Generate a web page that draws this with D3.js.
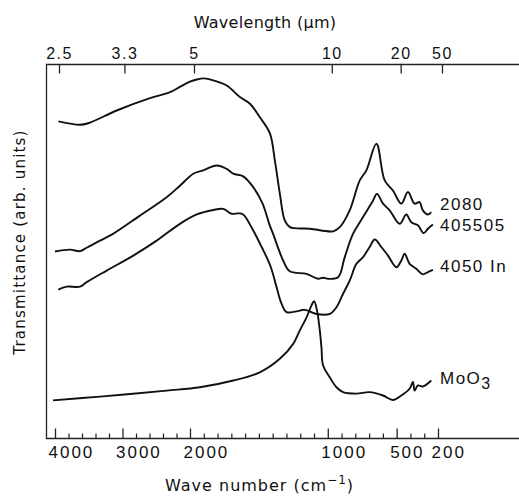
<!DOCTYPE html>
<html>
<head>
<meta charset="utf-8">
<script src="https://cdn.jsdelivr.net/npm/d3@7"></script>
<style>
  body { margin: 0; background: #fff; }
  .num { font-family: "Liberation Sans", Arial, sans-serif; fill: #111; }
  .title { font-family: "DejaVu Sans", sans-serif; fill: #111; }
</style>
</head>
<body>
<div id="chart"></div>
<script>
// wave numbers (cm-1) and transmittance (arb. units, 0 = bottom frame, 100 = top frame)
var wn2080 = [3950, 3630, 3507, 3086, 2593, 2296, 2149, 2000, 1951, 1900, 1855, 1734, 1638, 1565, 1493, 1420, 1384, 1348, 1312, 1275, 1130, 962, 913, 841, 768, 720, 647, 587, 527, 466, 418, 370, 334, 310, 273, 249];
var t2080  = [84.8, 83.9, 84.3, 87.7, 91.0, 92.6, 94.0, 95.4, 96.0, 96.3, 96.0, 94.4, 91.3, 89.5, 85.9, 81.6, 74.3, 65.5, 58.3, 56.5, 56.1, 55.4, 56.5, 61.0, 69.0, 71.7, 78.8, 69.0, 66.3, 62.8, 65.9, 62.8, 63.2, 61.0, 59.9, 60.5];

var wn405505 = [4000, 3778, 3630, 3531, 3334, 3160, 2741, 2346, 2149, 1976, 1904, 1807, 1734, 1686, 1614, 1541, 1473, 1425, 1397, 1324, 1275, 1154, 1070, 1034, 998, 925, 877, 817, 744, 672, 643, 599, 551, 478, 430, 394, 346, 304, 273, 237];
var t405505  = [50.0, 50.5, 50.1, 51.0, 52.9, 54.5, 59.6, 64.5, 67.6, 70.8, 71.7, 73.0, 72.1, 70.8, 70.1, 67.2, 62.8, 57.4, 54.7, 47.6, 44.7, 44.0, 42.7, 43.0, 42.7, 43.1, 48.5, 54.7, 59.2, 63.6, 65.4, 62.8, 61.0, 57.4, 59.9, 57.8, 57.0, 54.9, 56.1, 57.2];

var wn4050In = [3951, 3827, 3630, 3531, 3234, 2840, 2494, 2149, 1951, 1831, 1759, 1698, 1650, 1614, 1541, 1480, 1415, 1372, 1335, 1299, 1227, 1167, 1082, 986, 937, 889, 841, 792, 744, 696, 659, 611, 563, 502, 466, 442, 406, 358, 310, 273, 237];
var t4050In  = [39.8, 40.6, 40.6, 41.8, 44.9, 48.9, 52.9, 57.4, 59.9, 61.1, 61.4, 60.1, 60.2, 59.9, 55.6, 51.2, 46.0, 40.5, 36.0, 33.8, 34.0, 34.4, 33.3, 33.3, 35.1, 38.7, 42.2, 46.7, 48.5, 51.2, 53.2, 51.2, 48.9, 45.8, 47.6, 49.4, 46.7, 45.4, 43.9, 44.5, 45.1];

var wnMoO3 = [4030, 3334, 2346, 1928, 1686, 1493, 1348, 1251, 1203, 1154, 1118, 1099, 1078, 1058, 1046, 1034, 986, 937, 889, 792, 696, 599, 527, 466, 406, 382, 370, 346, 310, 249];
var tMoO3  = [10.2, 11.2, 12.8, 13.7, 15.5, 17.7, 21.3, 25.3, 28.9, 32.4, 35.6, 36.7, 34.2, 28.9, 24.4, 19.5, 16.4, 13.7, 12.4, 12.0, 12.4, 11.5, 10.3, 11.5, 13.3, 15.1, 12.8, 14.2, 13.9, 15.5];

var seriesNames = ["2080", "405505", "4050 In", "MoO3"];
var labelT = [61.0, 55.6, 44.4, 14.7];   // label baselines, in transmittance units
var labelWn = 200;

var waveTicks = [4000, 3000, 2000, 1000, 500, 200];
var wlTicks = [2.5, 3.3, 5, 10, 20, 50];
var wlLabels = ["2.5", "3.3", "5", "10", "20", "50"];

var W = 519, H = 497,
    frameLeft = 46.5, frameTop = 64.5, frameBottom = 438.5;

var svg = d3.select("#chart").append("svg")
    .attr("width", W)
    .attr("height", H);

// scale expands x2 below 2000 cm-1
var x = d3.scaleLinear()
    .domain([4000, 2000, 200])
    .range([55, 190, 438]);

var y = d3.scaleLinear()
    .domain([0, 100])
    .range([frameBottom, frameTop]);

// frame
svg.append("path")
    .attr("d", "M" + W + "," + frameTop + "H" + frameLeft + "V" + frameBottom + "H" + W)
    .attr("fill", "none")
    .attr("stroke", "#222")
    .attr("stroke-width", 1.3);

// bottom axis, major + minor ticks
var minor = d3.range(3800, 2000, -200).concat(d3.range(1900, 200, -100))
    .filter(function(d) { return waveTicks.indexOf(d) < 0; });

var xMinor = svg.append("g")
    .attr("transform", "translate(0," + frameBottom + ")")
    .call(d3.axisBottom(x).tickValues(minor).tickSize(-5).tickFormat(""));
xMinor.select(".domain").remove();
xMinor.selectAll("line").attr("stroke", "#222").attr("stroke-width", 1.2);

var xAxis = svg.append("g")
    .attr("transform", "translate(0," + frameBottom + ")")
    .call(d3.axisBottom(x).tickValues(waveTicks).tickSize(-10).tickPadding(7).tickFormat(d3.format("d")));
xAxis.select(".domain").remove();
xAxis.selectAll("line").attr("stroke", "#222").attr("stroke-width", 1.3);
xAxis.selectAll("text")
    .attr("class", "num")
    .attr("text-anchor", "start")
    .attr("dx", -7)
    .style("font-size", "17px")
    .style("letter-spacing", "2px");

// top axis in wavelength (um)
var topAxis = svg.append("g")
    .attr("transform", "translate(4," + frameTop + ")")
    .call(d3.axisTop(x)
      .tickValues(wlTicks.map(function(d) { return 1e4 / d; }))
      .tickSize(-9).tickPadding(6)
      .tickFormat(function(d, i) { return wlLabels[i]; }));
topAxis.select(".domain").remove();
topAxis.selectAll("line").attr("stroke", "#222").attr("stroke-width", 1.3);
topAxis.selectAll("text")
    .attr("class", "num")
    .style("font-size", "16px")
    .style("letter-spacing", "1.5px");

// curves
var series = [
  { name: seriesNames[0], wn: wn2080, t: t2080 },
  { name: seriesNames[1], wn: wn405505, t: t405505 },
  { name: seriesNames[2], wn: wn4050In, t: t4050In },
  { name: seriesNames[3], wn: wnMoO3, t: tMoO3 }
];

var line = d3.line()
    .x(function(d) { return x(d[0]); })
    .y(function(d) { return y(d[1]); })
    .curve(d3.curveCatmullRom.alpha(0.5));

svg.selectAll(".spectrum")
    .data(series)
  .enter().append("path")
    .attr("class", "spectrum")
    .attr("d", function(s) { return line(d3.zip(s.wn, s.t)); })
    .attr("fill", "none")
    .attr("stroke", "#111")
    .attr("stroke-width", 1.9)
    .attr("stroke-linejoin", "round");

// series labels
var labels = svg.selectAll(".slabel")
    .data(series)
  .enter().append("text")
    .attr("class", "slabel num")
    .attr("x", x(labelWn) + 2)
    .attr("y", function(d, i) { return y(labelT[i]); })
    .style("font-size", "17px")
    .style("letter-spacing", "1.5px");

labels.each(function(d) {
  var t = d3.select(this);
  if (d.name === "MoO3") {
    t.append("tspan").text("MoO");
    t.append("tspan").attr("dy", 5).style("font-size", "16px").text("3");
  } else {
    t.text(d.name);
  }
});

// axis titles
svg.append("text")
    .attr("class", "title")
    .attr("x", 265)
    .attr("y", 28)
    .attr("text-anchor", "middle")
    .style("font-size", "16px")
    .style("letter-spacing", "0.3px")
    .text("Wavelength (\u00b5m)");

var xt = svg.append("text")
    .attr("class", "title")
    .attr("x", 165)
    .attr("y", 491)
    .style("font-size", "16px")
    .style("letter-spacing", "1px");
xt.append("tspan").text("Wave number (cm");
xt.append("tspan").attr("dy", -7).style("font-size", "12px").text("\u22121");
xt.append("tspan").attr("dy", 7).text(")");

svg.append("text")
    .attr("class", "title")
    .attr("transform", "translate(25,242) rotate(-90)")
    .attr("text-anchor", "middle")
    .style("font-size", "15px")
    .style("letter-spacing", "1.2px")
    .text("Transmittance (arb. units)");
</script>
</body>
</html>
